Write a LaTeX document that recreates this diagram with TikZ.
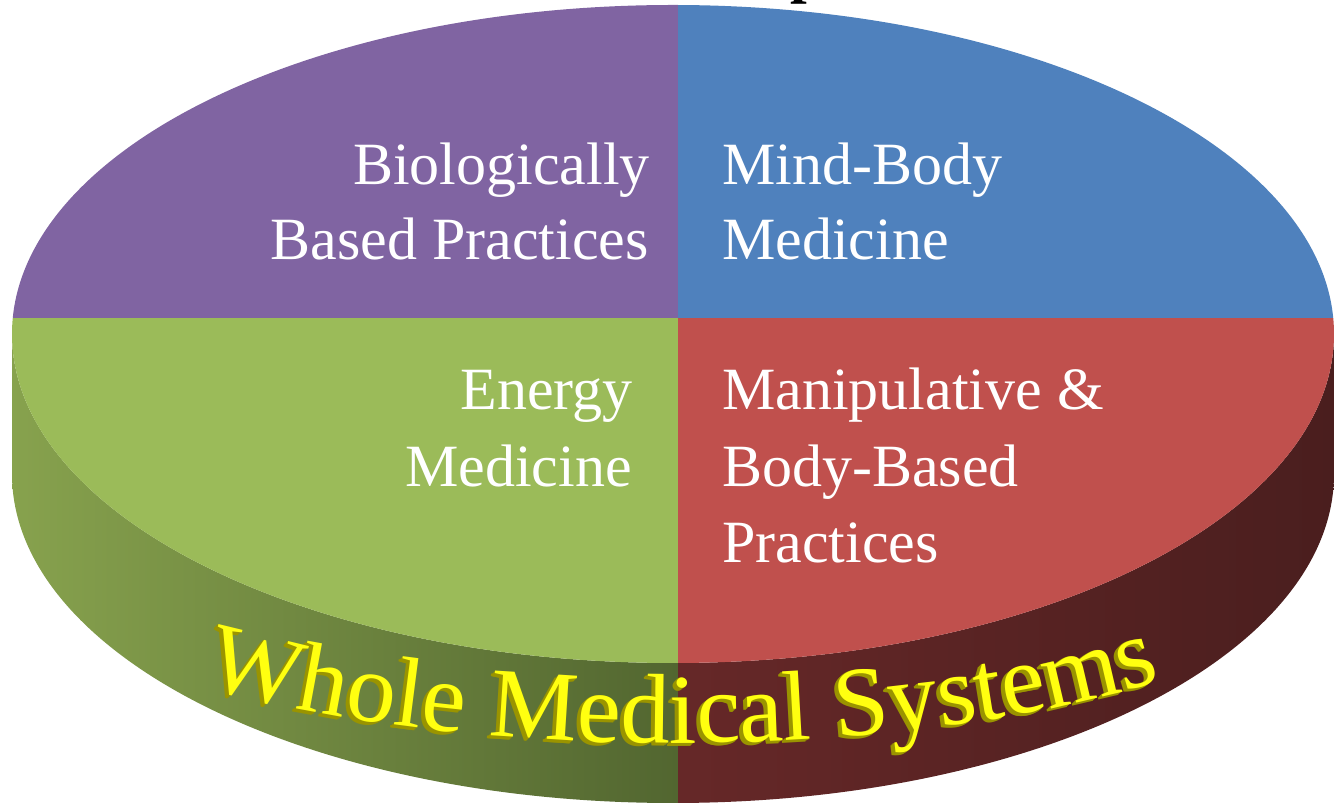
\documentclass[tikz,border=0pt]{standalone}
\usepackage{fontspec}
\setmainfont{Liberation Serif}
\newfontfamily\wmsfont{Liberation Serif}
\usetikzlibrary{decorations.text}
\definecolor{cpurple}{HTML}{8064A2}
\definecolor{cblue}{HTML}{4F81BD}
\definecolor{cgreen}{HTML}{9BBB59}
\definecolor{cred}{HTML}{C0504D}
\definecolor{gsideL}{HTML}{88A34E}
\definecolor{gsideR}{HTML}{526630}
\definecolor{rsideL}{HTML}{662828}
\definecolor{rsideR}{HTML}{4A1E1E}
\definecolor{wmsyellow}{HTML}{FFFF10}
\definecolor{wmsdark}{HTML}{9A9400}
\tikzset{
  lbl/.style={inner sep=0pt, text=white, font=\fontsize{60}{76}\selectfont},
  lblR/.style={lbl, anchor=base east},
  lblL/.style={lbl, anchor=base west},
  wmstext/.style={decorate,
    decoration={text along path, text align=center, text color=#1,
      text={|\wmsfont\fontsize{99}{99}\selectfont|Whole Medical Systems}}},
}
\begin{document}
\begin{tikzpicture}[x=1pt,y=1pt]
\useasboundingbox (0,0) rectangle (1334,803);
% cut-off title fragment
\node[inner sep=0pt, anchor=base west, font=\bfseries\fontsize{60}{60}\selectfont] (titlefrag) at (790,811) {p};
% side of the disc
\begin{scope}
  \clip (12,469) -- (12,329) arc[start angle=180, end angle=360, x radius=661, y radius=329]
        -- (1334,469) arc[start angle=0, end angle=-180, x radius=661, y radius=329] -- cycle;
  \shade[left color=gsideL, right color=gsideR] (0,0) rectangle (678,470);
  \shade[left color=rsideL, right color=rsideR] (678,0) rectangle (1334,470);
\end{scope}
% top face
\begin{scope}
  \clip (673,469) ellipse[x radius=661, y radius=329];
  \fill[cpurple] (0,485) rectangle (678,803);
  \fill[cblue] (678,485) rectangle (1334,803);
  \fill[cgreen] (0,0) rectangle (678,485);
  \fill[cred] (678,0) rectangle (1334,485);
\end{scope}
% labels
\node[lblR] (bio1) at (650,618) {Biologically};
\node[lblR] (bio2) at (649,543) {Based Practices};
\node[lblL] (mb1) at (722,618) {Mind-Body};
\node[lblL] (mb2) at (722,543) {Medicine};
\node[lblR] (en1) at (633,393) {Energy};
\node[lblR] (en2) at (632,316) {Medicine};
\node[lblL] (mp1) at (722,393) {Manipulative \&};
\node[lblL] (mp2) at (722,316) {Body-Based};
\node[lblL] (mp3) at (722,240) {Practices};
% Whole Medical Systems (3D-like text along the rim)
\foreach \dx/\dy in {-4/-3,-3/-2.25,-2/-1.5,-1/-0.75}{
  \path[wmstext=wmsdark]
    (673+\dx+661*cos 214, 253+\dy+193*sin 214) arc[start angle=214, end angle=329, x radius=661, y radius=193];
}
\path[wmstext=wmsyellow]
  (673+661*cos 214, 253+193*sin 214) arc[start angle=214, end angle=329, x radius=661, y radius=193];
\end{tikzpicture}
\end{document}
